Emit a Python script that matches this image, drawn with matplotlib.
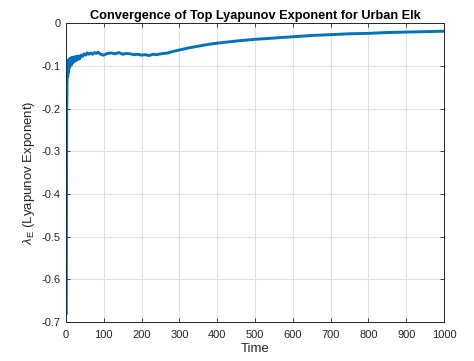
import matplotlib
matplotlib.use("Agg")
import matplotlib.pyplot as plt

time = [1, 2, 3, 4, 5, 6, 7, 8, 9, 10, 11, 12, 13, 14, 15, 16, 17, 18, 19, 20,
        22, 24, 26, 28, 30, 33, 36, 40, 44, 48, 52, 56, 60, 65, 70, 75, 80, 85,
        90, 95, 100, 110, 120, 130, 140, 150, 160, 170, 180, 190, 200, 210, 220,
        230, 240, 250, 260, 270, 280, 300, 325, 350, 375, 400, 450, 500, 550,
        600, 650, 700, 750, 800, 850, 900, 950, 1000]
lyap = [-0.68, -0.25, -0.14, -0.11, -0.125, -0.095, -0.115, -0.085, -0.105, -0.09,
        -0.1, -0.082, -0.097, -0.085, -0.098, -0.08, -0.094, -0.083, -0.092, -0.08,
        -0.09, -0.079, -0.088, -0.078, -0.086, -0.077, -0.084, -0.075, -0.078, -0.072,
        -0.075, -0.07, -0.073, -0.07, -0.073, -0.069, -0.071, -0.068, -0.072, -0.074,
        -0.075, -0.071, -0.07, -0.072, -0.069, -0.073, -0.071, -0.072, -0.074, -0.073,
        -0.075, -0.074, -0.076, -0.073, -0.074, -0.072, -0.071, -0.07, -0.067, -0.063,
        -0.058, -0.054, -0.05, -0.047, -0.042, -0.038, -0.035, -0.032, -0.029, -0.027,
        -0.025, -0.024, -0.022, -0.021, -0.02, -0.019]

xticks = [0, 100, 200, 300, 400, 500, 600, 700, 800, 900, 1000]
yticks = [-0.7, -0.6, -0.5, -0.4, -0.3, -0.2, -0.1, 0]
yticklabels = ["-0.7", "-0.6", "-0.5", "-0.4", "-0.3", "-0.2", "-0.1", "0"]

plt.rcParams['font.family'] = ['Liberation Sans', 'DejaVu Sans']
plt.rcParams['mathtext.fontset'] = 'custom'
plt.rcParams['mathtext.rm'] = 'Liberation Sans'
plt.rcParams['mathtext.it'] = 'Liberation Sans:italic'

fig = plt.figure(figsize=(4.74, 3.61), dpi=100)
ax = fig.add_axes([0.139, 0.108, 0.798, 0.828])
axcol = (0.15, 0.15, 0.15)
ax.plot(time, lyap, color=(0, 0.447, 0.741), lw=2.1)
ax.set_xlim(0, 1000)
ax.set_ylim(-0.7, 0)
ax.set_xticks(xticks)
ax.set_yticks(yticks)
ax.set_yticklabels(yticklabels)
ax.grid(True, color=(0.88, 0.88, 0.88), lw=0.8)
ax.set_axisbelow(True)
ax.tick_params(axis='x', pad=6)
ax.tick_params(axis='y', pad=4)
ax.tick_params(direction='in', top=True, right=True, labelsize=8, colors=axcol,
               length=3, width=0.6)
for s in ax.spines.values():
    s.set_color(axcol)
    s.set_linewidth(0.7)
ax.set_title("Convergence of Top Lyapunov Exponent for Urban Elk",
             fontsize=9.2, fontweight='bold', pad=3)
ax.set_xlabel("Time", fontsize=9.5, color=axcol, labelpad=2)
ax.set_ylabel(r"$\lambda_{\rm E}$ (Lyapunov Exponent)", fontsize=9.5, color=axcol, labelpad=3)
fig.savefig("out.png", dpi=100)
